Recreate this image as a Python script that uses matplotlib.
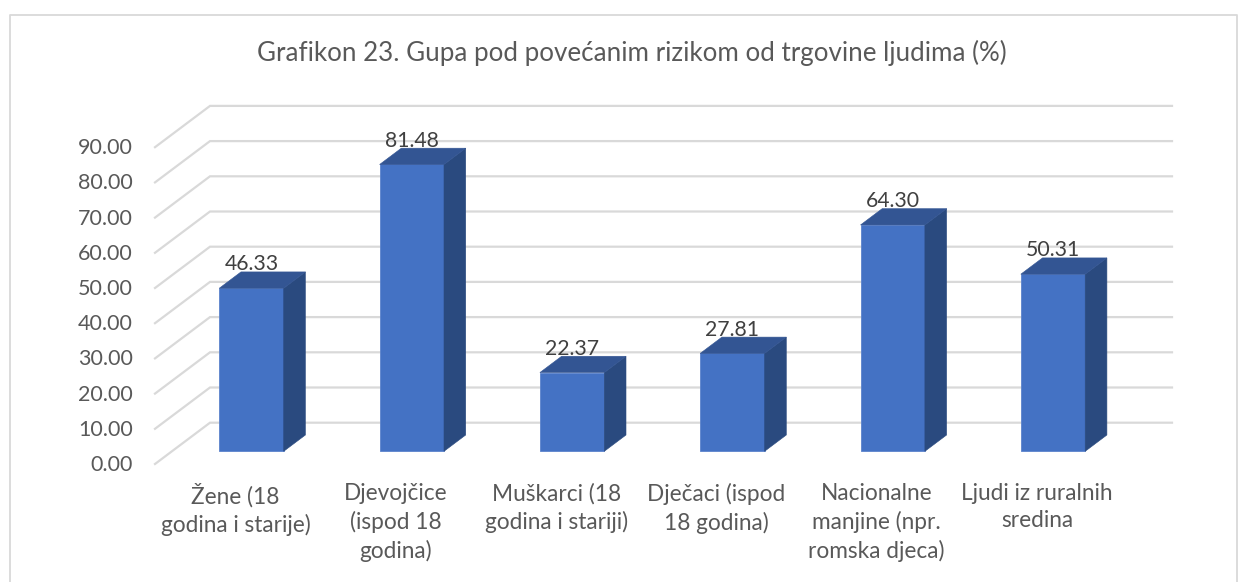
import matplotlib
matplotlib.use("Agg")
import matplotlib.pyplot as plt
from matplotlib.patches import Polygon

plt.rcParams['font.family'] = ['Lato', 'DejaVu Sans']

categories = ["Žene (18\ngodina i starije)", "Djevojčice\n(ispod 18\ngodina)",
              "Muškarci (18\ngodina i stariji)", "Dječaci (ispod\n18 godina)",
              "Nacionalne\nmanjine (npr.\nromska djeca)", "Ljudi iz ruralnih\nsredina"]
values = [46.33, 81.48, 22.37, 27.81, 64.30, 50.31]
ticks = [0, 10, 20, 30, 40, 50, 60, 70, 80, 90]
title = "Grafikon 23. Gupa pod povećanim rizikom od trgovine ljudima (%)"

W, H = 1246, 582
# one category = 160.3 px, one percent = 3.52 px
px_x = 160.3
px_y = 3.52
x0 = 251.5
y0 = 451.3

fig = plt.figure(figsize=(W / 100, H / 100), dpi=100)
ax = fig.add_axes([0, 0, 1, 1])
ax.set_xlim(-x0 / px_x, (W - x0) / px_x)
ax.set_ylim((y0 - H) / px_y, y0 / px_y)
ax.axis("off")


def X(p):
    return (p - x0) / px_x


def Y(p):
    return (y0 - p) / px_y


# chart border
ax.plot([X(9.5), X(9.5), X(1237), X(1237)], [Y(582), Y(15), Y(15), Y(582)],
        color="#d9d9d9", lw=1.3, zorder=1)

# gridlines: floor edge, back wall
front_x, back_x, end_x = X(155), X(210), X(1172)
front_off = Y(464)
back_off = Y(422.7)
for t in ticks:
    ax.plot([front_x, back_x, end_x], [t + front_off, t + back_off, t + back_off],
            color="#d9d9d9", lw=1.6, zorder=2, solid_joinstyle="miter")
    ax.text(X(133), t + front_off - 0.3, f"{t:.2f}", ha="right", va="center",
            fontsize=15.5, color="#595959")

# bars
half = 32.2 / px_x
dx = 21.7 / px_x
dy = 16.3 / px_y
for i, v in enumerate(values):
    l, r = i - half, i + half
    ax.add_patch(Polygon([(l, 0), (r, 0), (r, v), (l, v)], fc="#4472c4", ec="#5b83cc", lw=0.6, zorder=3))
    ax.add_patch(Polygon([(r, 0), (r + dx, dy), (r + dx, v + dy), (r, v)], fc="#2a4a7f", ec="#2a4a7f", lw=0.4, zorder=3))
    ax.add_patch(Polygon([(l, v), (r, v), (r + dx, v + dy), (l + dx, v + dy)], fc="#335593", ec="#335593", lw=0.4, zorder=3))
    ax.text(i, v + 3.9, f"{v:.2f}", ha="center", va="bottom", fontsize=15.3, color="#404040", zorder=4)
    ax.text(i - 0.1, Y(483), categories[i], ha="center", va="top", fontsize=16.3,
            color="#595959", linespacing=1.38, zorder=4)

ax.text(X(632), Y(53), title, ha="center", va="center", fontsize=18.7, color="#595959")

fig.savefig("out.png", dpi=100)
